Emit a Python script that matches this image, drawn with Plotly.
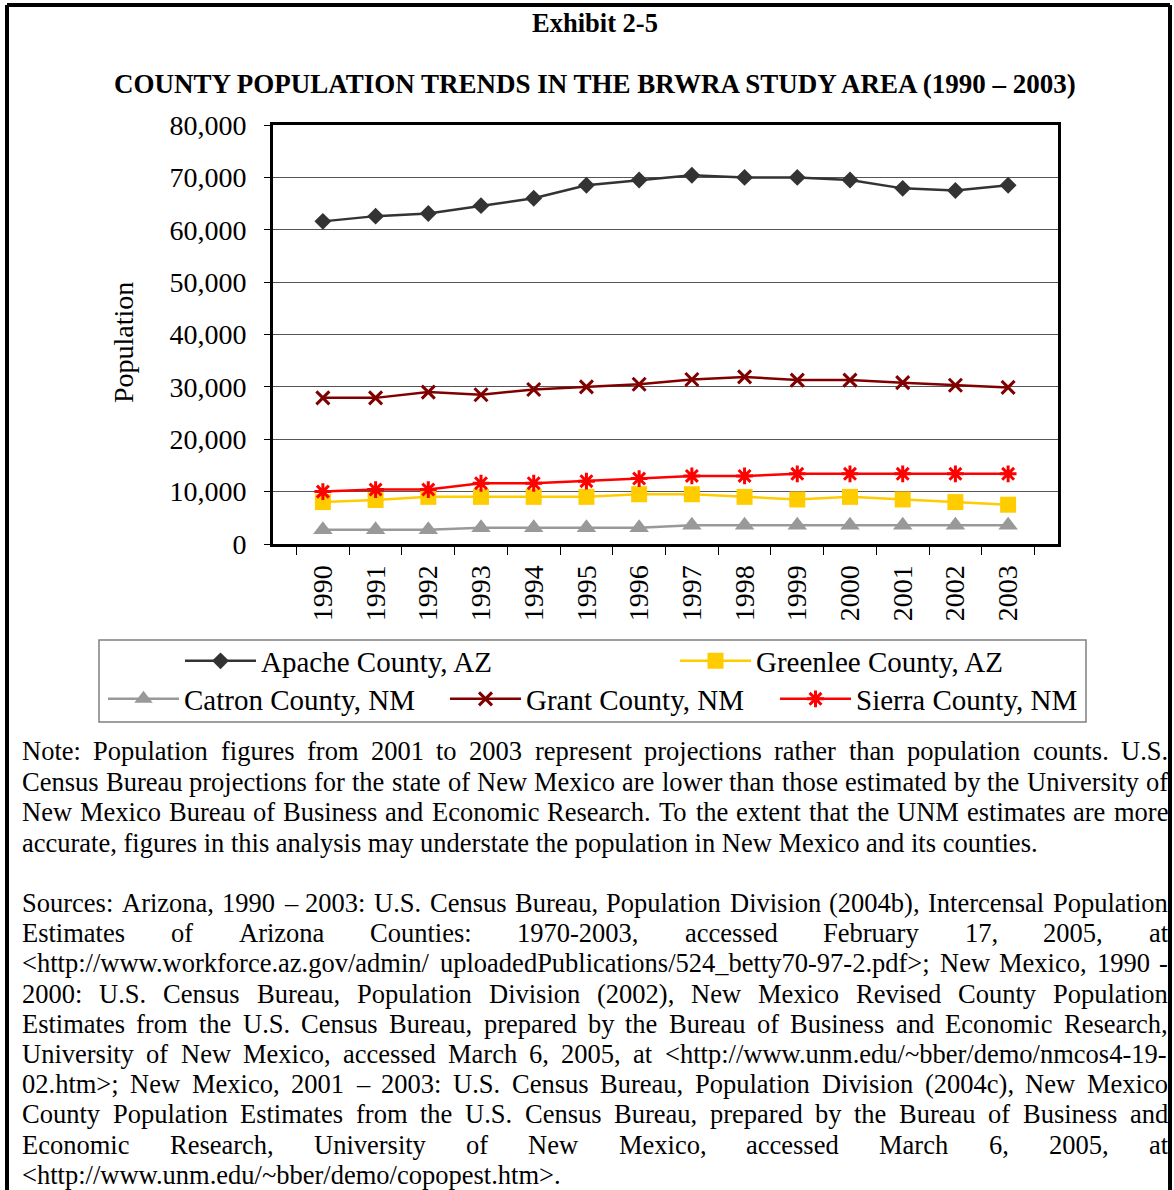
import plotly.graph_objects as go

# ---------------- data ----------------
years = [str(y) for y in range(1990, 2004)]
apache = [61600, 62600, 63100, 64600, 66000, 68500, 69500, 70400, 70000, 70000, 69500, 67900, 67500, 68500]
greenlee = [8000, 8400, 9000, 9000, 9000, 9000, 9500, 9500, 9000, 8500, 9000, 8500, 8000, 7500]
catron = [2700, 2700, 2700, 3100, 3100, 3100, 3100, 3600, 3600, 3600, 3600, 3600, 3600, 3600]
grant = [27900, 27900, 29000, 28500, 29500, 30000, 30500, 31400, 31900, 31300, 31300, 30800, 30300, 29900]
sierra = [10000, 10400, 10400, 11600, 11600, 12000, 12500, 13000, 13000, 13400, 13400, 13400, 13400, 13400]

series_names = ["Apache County, AZ", "Greenlee County, AZ", "Catron County, NM",
                "Grant County, NM", "Sierra County, NM"]

title_top = "Exhibit 2-5"
title_main = "COUNTY POPULATION TRENDS IN THE BRWRA STUDY AREA (1990 \u2013 2003)"
y_title = "Population"

note_lines = [
    "Note: Population figures from 2001 to 2003 represent projections rather than population counts. U.S.",
    "Census Bureau projections for the state of New Mexico are lower than those estimated by the University of",
    "New Mexico Bureau of Business and Economic Research. To the extent that the UNM estimates are more",
    "accurate, figures in this analysis may understate the population in New Mexico and its counties.",
]
source_lines = [
    "Sources: Arizona, 1990 \u2013 2003: U.S. Census Bureau, Population Division (2004b), Intercensal Population",
    "Estimates of Arizona Counties: 1970-2003, accessed February 17, 2005, at",
    "<http://www.workforce.az.gov/admin/ uploadedPublications/524_betty70-97-2.pdf>; New Mexico, 1990 -",
    "2000: U.S. Census Bureau, Population Division (2002), New Mexico Revised County Population",
    "Estimates from the U.S. Census Bureau, prepared by the Bureau of Business and Economic Research,",
    "University of New Mexico, accessed March 6, 2005, at <http://www.unm.edu/~bber/demo/nmcos4-19-",
    "02.htm>; New Mexico, 2001 \u2013 2003: U.S. Census Bureau, Population Division (2004c), New Mexico",
    "County Population Estimates from the U.S. Census Bureau, prepared by the Bureau of Business and",
    "Economic Research, University of New Mexico, accessed March 6, 2005, at",
    "<http://www.unm.edu/~bber/demo/copopest.htm>.",
]

# ---------------- geometry helpers ----------------
FW, FH = 1174, 1190
def px(x):
    return x / FW
def py(y):
    return 1 - y / FH

FONT = "Liberation Serif, Times New Roman, serif"

# Times-Roman advance widths (per 1000 em) for text justification
TW = {' ': 250, '!': 333, '"': 408, '#': 500, '$': 500, '%': 833, '&': 778, "'": 180,
      '(': 333, ')': 333, '*': 500, '+': 564, ',': 250, '-': 333, '.': 250, '/': 278,
      ':': 278, ';': 278, '<': 564, '=': 564, '>': 564, '?': 444, '@': 921,
      'A': 722, 'B': 667, 'C': 667, 'D': 722, 'E': 611, 'F': 556, 'G': 722, 'H': 722,
      'I': 333, 'J': 389, 'K': 722, 'L': 611, 'M': 889, 'N': 722, 'O': 722, 'P': 556,
      'Q': 722, 'R': 667, 'S': 556, 'T': 611, 'U': 722, 'V': 722, 'W': 944, 'X': 722,
      'Y': 722, 'Z': 611, '[': 333, '\\': 278, ']': 333, '_': 500,
      'a': 444, 'b': 500, 'c': 444, 'd': 500, 'e': 444, 'f': 333, 'g': 500, 'h': 500,
      'i': 278, 'j': 278, 'k': 500, 'l': 278, 'm': 778, 'n': 500, 'o': 500, 'p': 500,
      'q': 500, 'r': 333, 's': 389, 't': 278, 'u': 500, 'v': 500, 'w': 722, 'x': 500,
      'y': 500, 'z': 444, '~': 541, '\u2013': 500}
for d in "0123456789":
    TW[d] = 500

TXT = 26.5
def tw(s, size=TXT):
    return sum(TW.get(c, 500) for c in s) * size / 1000.0

def esc(s):
    return s.replace("&", "&amp;").replace("<", "&lt;").replace(">", "&gt;")

annotations = []
def add_text(x, y, s, size=TXT, anchor="left", bold=False):
    annotations.append(dict(
        x=px(x), y=py(y), xref="paper", yref="paper", text=esc(s),
        showarrow=False, xanchor=anchor, yanchor="middle", borderpad=0, borderwidth=0,
        font=dict(family=FONT, size=size, color="black", weight="bold" if bold else "normal")))

LEFT, RIGHT = 22, 1168
def paragraph(lines, y0, dy):
    for i, line in enumerate(lines):
        y = y0 + i * dy
        if i == len(lines) - 1:
            add_text(LEFT, y, line)
            continue
        words = line.split(" ")
        total = sum(tw(w) for w in words)
        gap = (RIGHT - LEFT - total) / (len(words) - 1)
        xpos = LEFT
        for w in words:
            add_text(xpos, y, w)
            xpos += tw(w) + gap

paragraph(note_lines, 751, 30.6)
paragraph(source_lines, 903, 30.2)

add_text(595, 23, title_top, size=26.5, anchor="center", bold=True)
add_text(595, 84, title_main, size=27, anchor="center", bold=True)
annotations.append(dict(x=px(124), y=py(343), xref="paper", yref="paper", text=y_title,
                        showarrow=False, textangle=-90, xanchor="center", yanchor="middle",
                        font=dict(family=FONT, size=28, color="black")))

# ---------------- traces ----------------
fig = go.Figure()
styles = [
    dict(data=apache, color="#333333", symbol="diamond", size=13, legend="legend"),
    dict(data=greenlee, color="#FFCC00", symbol="square", size=16, legend="legend2"),
    dict(data=catron, color="#999999", symbol="triangle-up", size=17, legend="legend3"),
    dict(data=grant, color="#800000", symbol="x-thin", size=13, legend="legend4"),
    dict(data=sierra, color="#FF0000", symbol="asterisk", size=14, legend="legend5"),
]
for name, st in zip(series_names, styles):
    open_sym = st["symbol"] in ("x-thin", "asterisk")
    fig.add_trace(go.Scatter(
        x=years, y=st["data"], name=name, mode="lines+markers", legend=st["legend"],
        line=dict(color=st["color"], width=2.5),
        marker=dict(symbol=st["symbol"], size=st["size"], color=st["color"],
                    line=dict(width=3 if open_sym else 0, color=st["color"])),
    ))

# ---------------- layout ----------------
shapes = []
# page border
for x0, y0, x1, y1 in [(7, 5, 7, 1195), (7, 5, 1170, 5), (1170, 5, 1170, 1195)]:
    shapes.append(dict(type="line", xref="paper", yref="paper", x0=px(x0), y0=py(y0),
                       x1=px(x1), y1=py(y1), line=dict(color="black", width=4)))
# legend box
shapes.append(dict(type="rect", xref="paper", yref="paper", x0=px(99), y0=py(640),
                   x1=px(1086), y1=py(722), line=dict(color="#808080", width=1.5)))

LEG_FONT = dict(family=FONT, size=29, color="black")
def leg(x, y):
    return dict(orientation="h", x=px(x), xanchor="left", y=py(y), yanchor="middle",
                itemwidth=71, font=LEG_FONT, bgcolor="rgba(0,0,0,0)", borderwidth=0,
                tracegroupgap=0)

fig.update_layout(
    width=FW, height=FH, autosize=False,
    margin=dict(l=0, r=0, t=0, b=0, pad=0, autoexpand=False),
    paper_bgcolor="white", plot_bgcolor="white",
    font=dict(family=FONT, color="black", size=28),
    xaxis=dict(domain=[px(273), px(1058)], type="category", tickson="boundaries",
               ticks="outside", ticklen=8, tickwidth=1, tickcolor="black",
               tickangle=-90, tickfont=dict(size=28, family=FONT, color="black"),
               showline=True, linecolor="black", linewidth=3, mirror=True,
               showgrid=False, ticklabelstandoff=7, automargin=False),
    yaxis=dict(domain=[py(544), py(125)], range=[0, 80000], dtick=10000, tickformat=",",
               ticks="outside", ticklen=6, tickwidth=1, tickcolor="black",
               tickfont=dict(size=28, family=FONT, color="black"),
               showline=True, linecolor="black", linewidth=3, mirror=True,
               showgrid=True, gridcolor="#555555", gridwidth=1, zeroline=False,
               ticklabelstandoff=12, automargin=False),
    legend=leg(180, 661),
    legend2=leg(675, 661),
    legend3=leg(103, 699),
    legend4=leg(445, 699),
    legend5=leg(775, 699),
    annotations=annotations,
    shapes=shapes,
    showlegend=True,
)

post = ("document.documentElement.style.margin='0';document.body.style.margin='0';"
        "document.body.style.overflow='hidden';"
        "var gd=document.getElementById('{plot_id}');gd.style.position='fixed';"
        "gd.style.left='0px';gd.style.top='0px';")
fig.write_html("out.html", post_script=post, config={"displayModeBar": False})
